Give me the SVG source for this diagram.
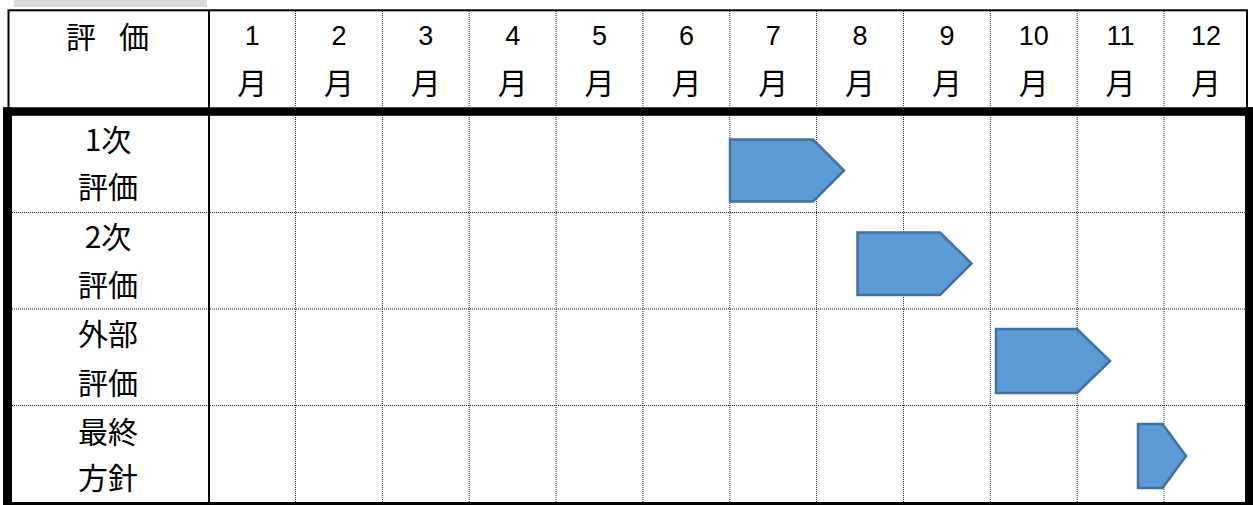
<svg xmlns="http://www.w3.org/2000/svg" width="1253" height="505" viewBox="0 0 1253 505">
<style>
.dot{stroke:#222;stroke-width:1;stroke-dasharray:1 1;fill:none}
.solid{stroke:#000;fill:none}
.jp{font-family:"Noto Sans CJK JP","Liberation Sans",sans-serif;font-size:30px;font-weight:400;fill:#000;text-anchor:middle}
.num{font-family:"Liberation Sans",sans-serif;font-size:27px;fill:#000;text-anchor:middle}
.bar{fill:#5b9bd5;stroke:#41719c;stroke-width:2.5;stroke-linejoin:miter}
</style>
<rect x="14" y="0" width="193" height="7" fill="#d9d9d9"/>
<g id="grid">
<line class="dot" x1="295.5" y1="11" x2="295.5" y2="502"/>
<line class="dot" x1="382.4" y1="11" x2="382.4" y2="502"/>
<line class="dot" x1="469.2" y1="11" x2="469.2" y2="502"/>
<line class="dot" x1="556.1" y1="11" x2="556.1" y2="502"/>
<line class="dot" x1="642.9" y1="11" x2="642.9" y2="502"/>
<line class="dot" x1="729.8" y1="11" x2="729.8" y2="502"/>
<line class="dot" x1="816.6" y1="11" x2="816.6" y2="502"/>
<line class="dot" x1="903.5" y1="11" x2="903.5" y2="502"/>
<line class="dot" x1="990.3" y1="11" x2="990.3" y2="502"/>
<line class="dot" x1="1077.2" y1="11" x2="1077.2" y2="502"/>
<line class="dot" x1="1164" y1="11" x2="1164" y2="502"/>
<line class="dot" x1="12" y1="212.5" x2="1245" y2="212.5"/>
<line class="dot" x1="12" y1="309" x2="1245" y2="309"/>
<line class="dot" x1="12" y1="405.5" x2="1245" y2="405.5"/>
<line class="solid" stroke-width="2" x1="209" y1="10" x2="209" y2="503"/>
<rect class="solid" stroke-width="2" x="8.5" y="10.3" width="1238.5" height="100"/>
<rect x="3" y="107.3" width="1250" height="8.5" fill="#000"/>
<rect x="3" y="107.3" width="9" height="398" fill="#000"/>
<rect x="1245" y="107.3" width="8" height="398" fill="#000"/>
<rect x="3" y="502" width="1250" height="3" fill="#000"/>
</g>
<g id="header">
<text class="jp" x="81" y="48">評</text>
<text class="jp" x="134" y="48">価</text>
<g class="num">
<text x="252.3" y="45">1</text>
<text x="339" y="45">2</text>
<text x="425.8" y="45">3</text>
<text x="512.7" y="45">4</text>
<text x="599.5" y="45">5</text>
<text x="686.4" y="45">6</text>
<text x="773.2" y="45">7</text>
<text x="860" y="45">8</text>
<text x="946.9" y="45">9</text>
<text x="1033.8" y="45">10</text>
<text x="1120.6" y="45">11</text>
<text x="1206" y="45">12</text>
</g>
<g class="jp">
<text x="252.3" y="94">月</text>
<text x="339" y="94">月</text>
<text x="425.8" y="94">月</text>
<text x="512.7" y="94">月</text>
<text x="599.5" y="94">月</text>
<text x="686.4" y="94">月</text>
<text x="773.2" y="94">月</text>
<text x="860" y="94">月</text>
<text x="946.9" y="94">月</text>
<text x="1033.8" y="94">月</text>
<text x="1120.6" y="94">月</text>
<text x="1206" y="94">月</text>
</g>
</g>
<g id="row1">
<text class="jp" x="108" y="151">1次</text>
<text class="jp" x="108" y="198">評価</text>
<polygon class="bar" points="730,139.5 813,139.5 844,170.5 813,201.5 730,201.5"/>
</g>
<g id="row2">
<text class="jp" x="108" y="248">2次</text>
<text class="jp" x="108" y="296">評価</text>
<polygon class="bar" points="857.5,232.5 940,232.5 971.5,263.5 940,295 857.5,295"/>
</g>
<g id="row3">
<text class="jp" x="108" y="345">外部</text>
<text class="jp" x="108" y="394">評価</text>
<polygon class="bar" points="996,329 1077,329 1110,361 1077,393 996,393"/>
</g>
<g id="row4">
<text class="jp" x="108" y="443">最終</text>
<text class="jp" x="108" y="489">方針</text>
<polygon class="bar" points="1138,424 1162.5,424 1186,456 1162.5,488 1138,488"/>
</g>
<g id="connectors"></g>
</svg>
